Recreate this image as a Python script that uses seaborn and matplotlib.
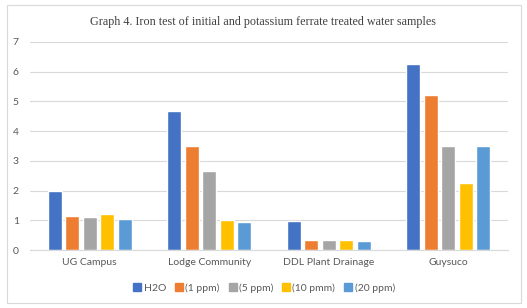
import numpy as np
import pandas as pd
import matplotlib
matplotlib.use('Agg')
import matplotlib.pyplot as plt
import seaborn as sns
from matplotlib.patches import Rectangle

# 数据：四个采样点，五种处理
sites = ['UG Campus', 'Lodge Community', 'DDL Plant Drainage', 'Guysuco']
series = ['H2O', '(1 ppm)', '(5 ppm)', '(10 pmm)', '(20 ppm)']
h2o = [2.00, 4.67, 0.98, 6.24]
ppm1 = [1.15, 3.51, 0.33, 5.23]
ppm5 = [1.11, 2.65, 0.35, 3.49]
ppm10 = [1.21, 1.01, 0.33, 2.25]
ppm20 = [1.03, 0.94, 0.30, 3.49]
colors = ['#4472C4', '#ED7D31', '#A5A5A5', '#FFC000', '#5B9BD5']

df = pd.DataFrame({
    'site': sites * 5,
    'series': np.repeat(series, len(sites)),
    'value': h2o + ppm1 + ppm5 + ppm10 + ppm20,
})

sns.set_style('white')
plt.rcParams['font.family'] = ['Lato', 'DejaVu Sans']

fig = plt.figure(figsize=(5.27, 3.08), dpi=100)
ax = fig.add_axes([0.057, 0.188, 0.907, 0.676])

sns.barplot(data=df, x='site', y='value', hue='series', order=sites,
            hue_order=series, palette=colors, width=0.73, gap=0.2,
            saturation=1, ax=ax, legend=True)

ax.set_ylim(0, 7)
ax.set_yticks(range(8))
ax.set_xlim(-0.5, 3.5)
ax.yaxis.grid(True, color='#D9D9D9', linewidth=0.8)
ax.set_axisbelow(True)
for s in ['top', 'left', 'right']:
    ax.spines[s].set_visible(False)
ax.spines['bottom'].set_color('#D9D9D9')
ax.spines['bottom'].set_linewidth(0.8)
ax.tick_params(axis='both', length=0, colors='#595959', labelsize=7.5)
ax.tick_params(axis='y', pad=8)
ax.tick_params(axis='x', pad=6)
ax.set_xlabel('')
ax.set_ylabel('')

ax.get_legend().remove()
handles = [plt.Line2D([], [], marker='s', linestyle='', color=c, markersize=5.5)
           for c in colors]
fig.legend(handles, series, loc='center', bbox_to_anchor=(0.5, 0.065), ncol=5,
           frameon=False, fontsize=7.5, handletextpad=0.1, columnspacing=0.75,
           labelcolor='#595959', handlelength=1.0)

fig.text(0.5, 0.929, 'Graph 4. Iron test of initial and potassium ferrate treated water samples',
         ha='center', va='center', fontsize=8.7, color='#404040', family='Liberation Serif')

fig.patches.append(Rectangle((0.013, 0.016), 0.975, 0.968, transform=fig.transFigure,
                             fill=False, edgecolor='#D9D9D9', linewidth=0.8))

fig.savefig('out.png', dpi=100)
